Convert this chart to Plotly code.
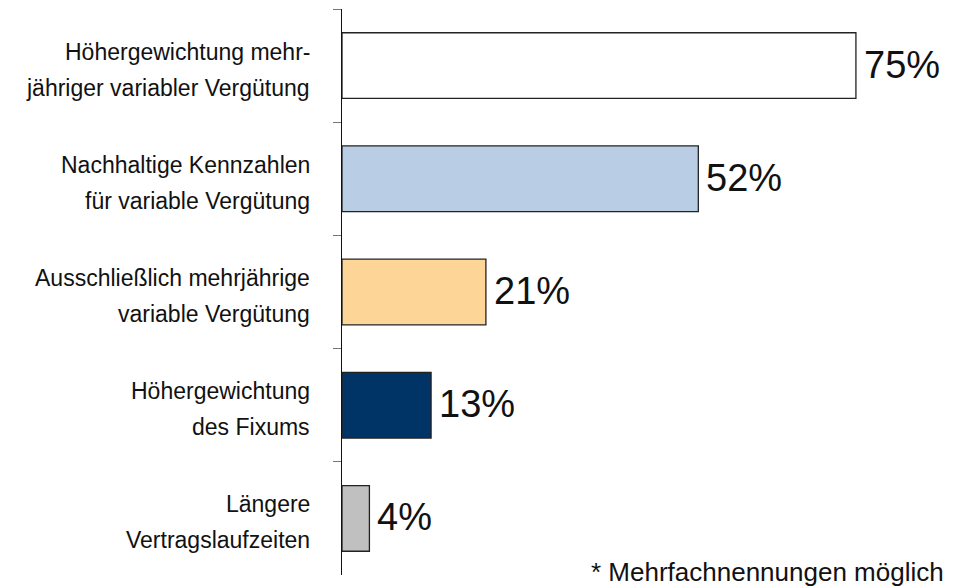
import plotly.graph_objects as go

categories = [
    "Höhergewichtung mehr-\njähriger variabler Vergütung",
    "Nachhaltige Kennzahlen\nfür variable Vergütung",
    "Ausschließlich mehrjährige\nvariable Vergütung",
    "Höhergewichtung\ndes Fixums",
    "Längere\nVertragslaufzeiten",
]
values = [75, 52, 21, 13, 4]
colors = ["#FFFFFF", "#B9CDE5", "#FCD597", "#003366", "#C0C0C0"]
footnote = "* Mehrfachnennungen möglich"

fig = go.Figure()
fig.add_trace(go.Bar(
    x=values, y=categories, orientation="h",
    marker=dict(color=colors, line=dict(color="#222222", width=1.3)),
    hoverinfo="skip",
))

annotations = []
for cat, val in zip(categories, values):
    annotations.append(dict(
        x=val, y=cat, xref="x", yref="y", text=f"{val}%", showarrow=False,
        xanchor="left", yanchor="middle", xshift=6, yshift=1,
        font=dict(family="Liberation Sans, Arial", size=38, color="#111111"),
    ))
    lines = cat.split("\n")
    shifts = [18, -18]
    for line, s in zip(lines, shifts):
        annotations.append(dict(
            x=0, y=cat, xref="paper", yref="y", text=line, showarrow=False,
            xanchor="right", yanchor="middle", xshift=-30, yshift=s - 4,
            font=dict(family="Liberation Sans, Arial", size=23, color="#111111"),
        ))
annotations.append(dict(
    x=1, y=0, xref="paper", yref="paper", text=footnote, showarrow=False,
    xanchor="right", yanchor="middle", yshift=3, xshift=1,
    font=dict(family="Liberation Sans, Arial", size=26, color="#111111"),
))

fig.update_layout(
    width=962, height=587,
    margin=dict(l=342, r=17, t=9, b=12),
    paper_bgcolor="white", plot_bgcolor="white",
    showlegend=False, bargap=0.42,
    annotations=annotations,
    xaxis=dict(range=[0, 88], visible=False, fixedrange=True),
    yaxis=dict(
        autorange="reversed", type="category", tickson="boundaries",
        ticks="outside", ticklen=8, tickwidth=1.3, tickcolor="#777777",
        showticklabels=False, showline=True, linecolor="#111111", linewidth=1.3,
        showgrid=False, zeroline=False, fixedrange=True,
    ),
)

fig.write_html("out.html", config={"displayModeBar": False},
               post_script="document.body.style.margin='0';")
